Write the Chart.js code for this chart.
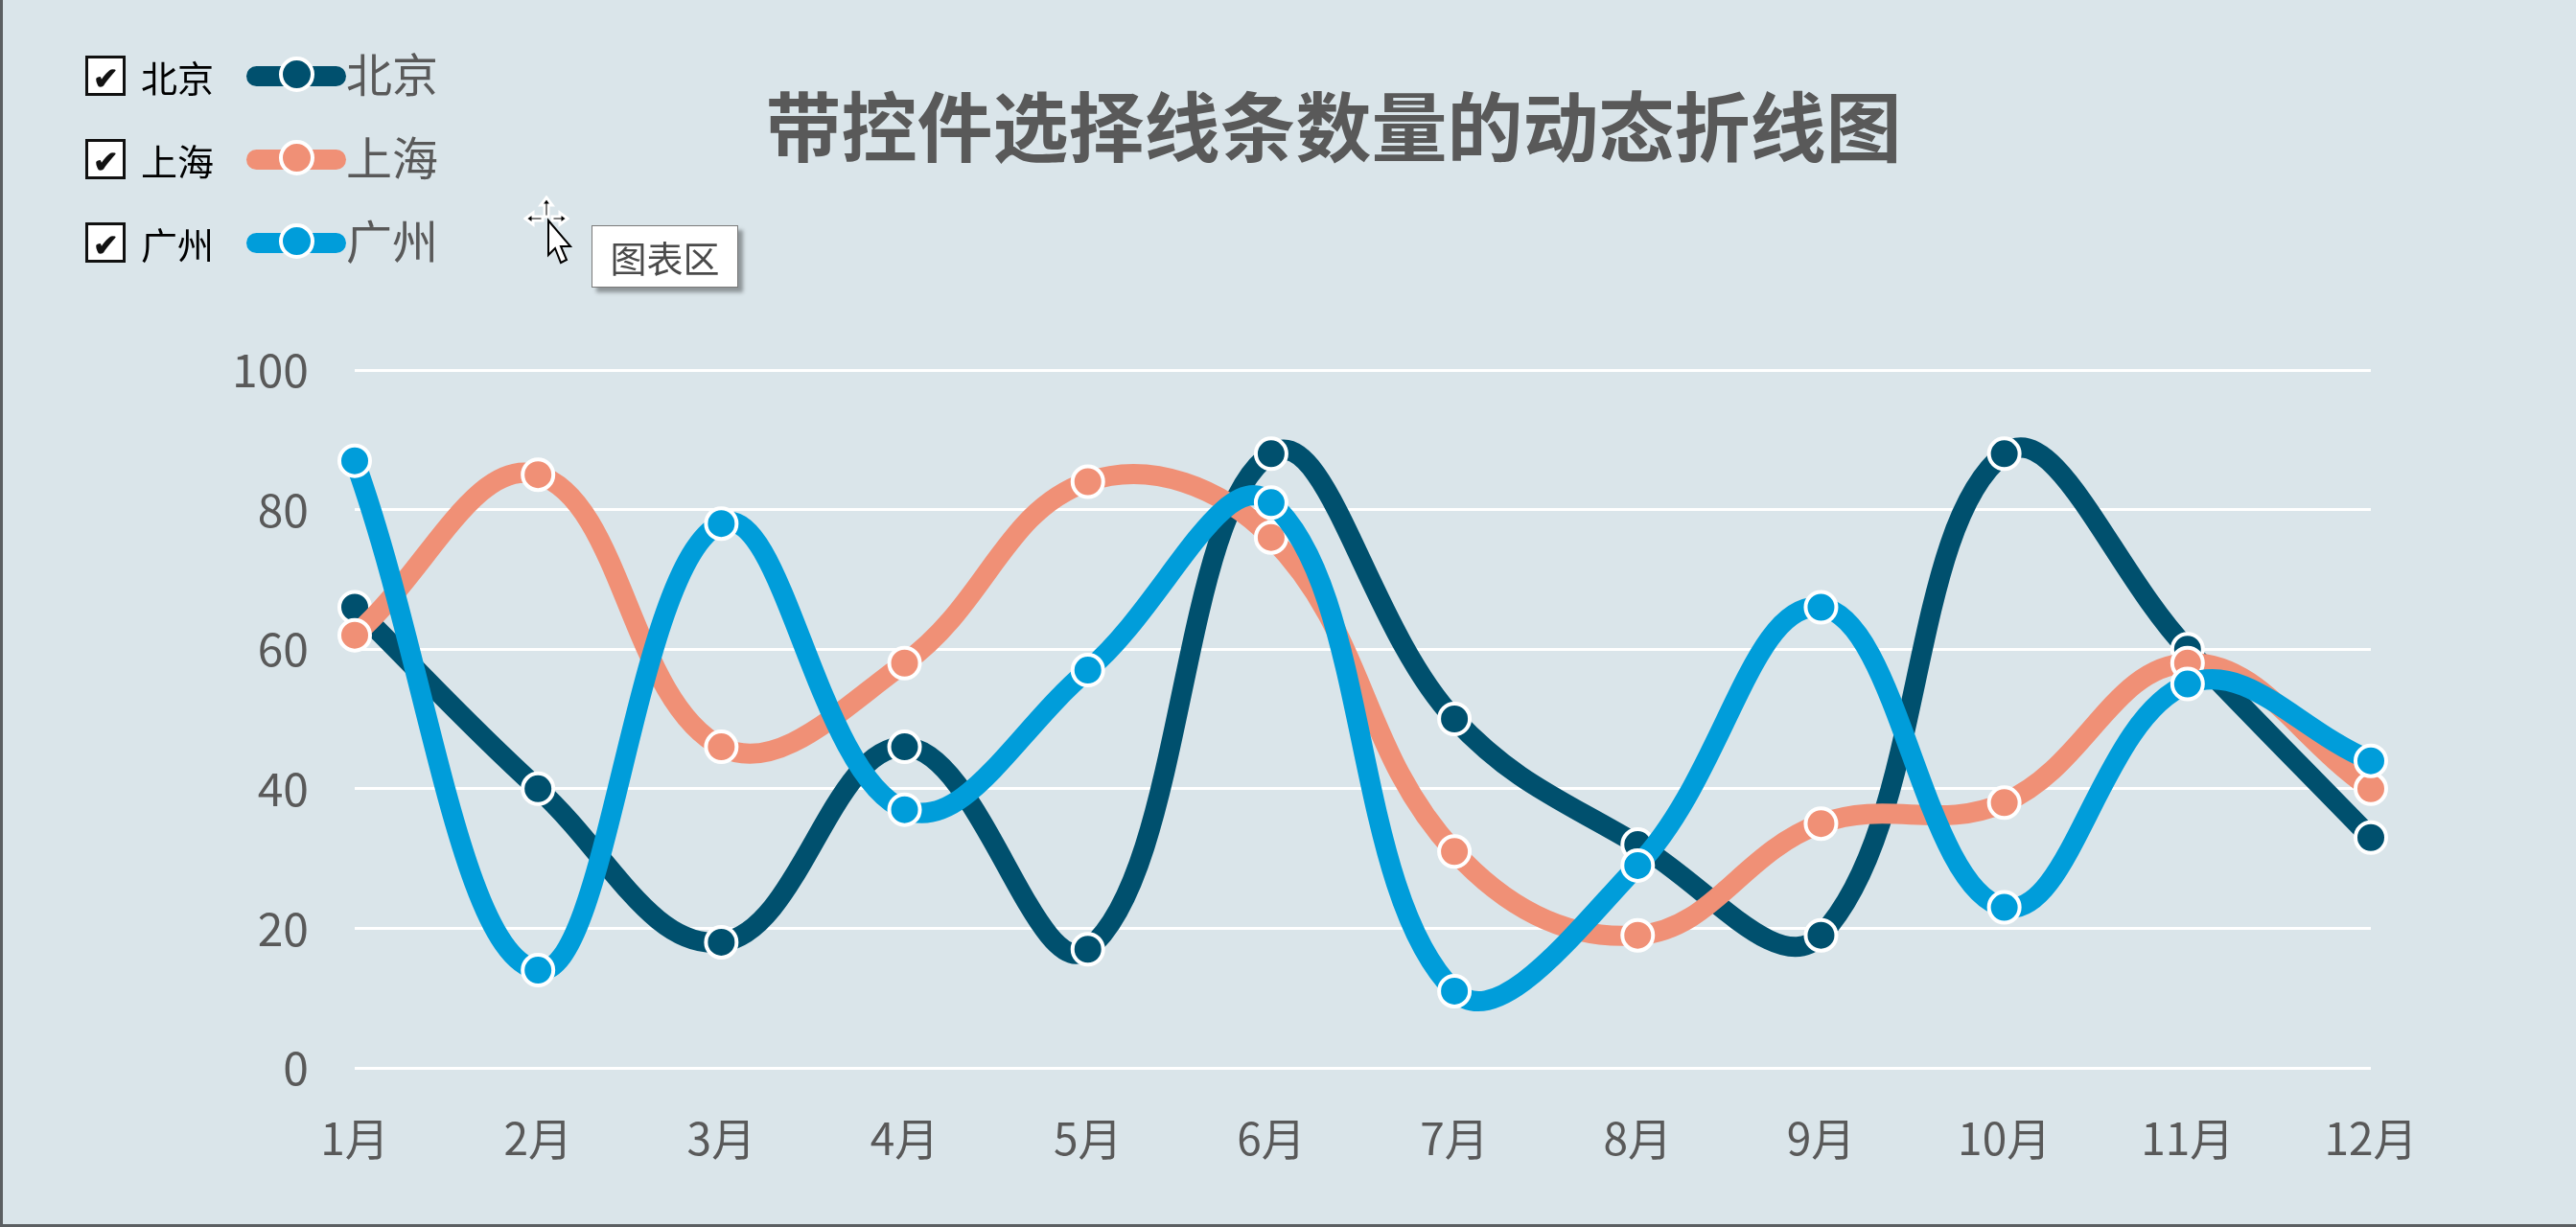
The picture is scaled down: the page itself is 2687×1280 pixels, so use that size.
<!DOCTYPE html>
<html>
<head>
<meta charset="utf-8">
<script src="https://cdn.jsdelivr.net/npm/chart.js@4.4.1/dist/chart.umd.min.js"></script>
<style>
  html, body { margin: 0; padding: 0; }
  body { width: 2687px; height: 1280px; overflow: hidden; background: #dae5ea; position: relative;
         font-family: "Noto Sans CJK SC", "Noto Sans", sans-serif; }
  #frame { position: absolute; left: 0; top: 0; width: 2684px; height: 1277px;
           border-left: 3px solid #5b5f62; border-bottom: 3px solid #5b5f62; pointer-events: none; }
  #c { position: absolute; left: 0; top: 0; }
  #title { position: absolute; left: 1391px; top: 128px; transform: translate(-50%, -50%);
           font-size: 79px; font-weight: 700; color: #595959; white-space: nowrap; }
  .row { position: absolute; left: 89px; height: 44px; display: flex; align-items: center; }
  .row input { display: none; }
  .box { width: 36px; height: 36px; border: 3px solid #111; background: #fff; display: flex;
         align-items: center; justify-content: center; font-size: 32px; font-weight: 700; line-height: 1; color: #111; cursor: pointer; }
  .row input:not(:checked) + .box { color: transparent; }
  .ctl { margin-left: 16px; width: 110px; font-size: 38px; color: #000; cursor: pointer; }
  .sw { position: relative; width: 104px; height: 21px; border-radius: 11px; }
  .sw i { position: absolute; left: 36px; top: -8px; width: 29px; height: 29px; border-radius: 50%;
          border: 4px solid #fff; margin-left: -2px; margin-top: -2px; }
  .lg { font-size: 48px; color: #595959; margin-top: -8px; }
  #tip { position: absolute; left: 617px; top: 235px; width: 151px; height: 63px; background: #fff;
         border: 1px solid #7a7a7a; box-shadow: 5px 5px 4px rgba(0,0,0,0.35); font-size: 38px; color: #4a4a4a;
         display: flex; align-items: center; justify-content: center; }
  #cur { position: absolute; left: 546px; top: 204px; }
</style>
</head>
<body>
<canvas id="c" width="2687" height="1280"></canvas>
<div id="title">带控件选择线条数量的动态折线图</div>
<div id="legend"></div>
<svg id="cur" width="56" height="78" viewBox="0 0 56 78">
  <g stroke="#fff" stroke-width="3" fill="#000">
    <path d="M24 2 L30 10 L26 10 L26 22 L22 22 L22 10 L18 10 Z"/>
    <path d="M2 24 L10 18 L10 22 L20 22 L20 26 L10 26 L10 30 Z"/>
    <path d="M46 24 L38 18 L38 22 L30 22 L30 26 L38 26 L38 30 Z"/>
    <path d="M26 26 L26 62 L33 55 L39 70 L45 67 L39 53 L49 53 Z" fill="#fff" stroke="#000" stroke-width="2"/>
  </g>
</svg>
<div id="tip">图表区</div>
<div id="frame"></div>
<script>
// 月份与三座城市的数据
const months = ["1月","2月","3月","4月","5月","6月","7月","8月","9月","10月","11月","12月"];
const beijing   = [66, 40, 18, 46, 17, 88, 50, 32, 19, 88, 60, 33];
const shanghai  = [62, 85, 46, 58, 84, 76, 31, 19, 35, 38, 58, 40];
const guangzhou = [87, 14, 78, 37, 57, 81, 11, 29, 66, 23, 55, 44];
const yTicks = [0, 20, 40, 60, 80, 100];

const cities = [
  {name: "北京", data: beijing,   color: "#00506e", order: 3},
  {name: "上海", data: shanghai,  color: "#f09076", order: 2},
  {name: "广州", data: guangzhou, color: "#009dda", order: 1},
];
const FONT = '"Noto Sans CJK SC", "Noto Sans", sans-serif';

const chart = new Chart(document.getElementById("c"), {
  type: "line",
  data: {
    labels: months,
    datasets: cities.map(c => ({
      label: c.name, data: c.data, order: c.order,
      borderColor: c.color, borderWidth: 21, borderCapStyle: "round", borderJoinStyle: "round",
      tension: 0.4, pointRadius: 16, pointBorderWidth: 4, pointBorderColor: "#fff",
      pointBackgroundColor: c.color, pointHoverRadius: 16, pointHoverBorderWidth: 4,
    }))
  },
  options: {
    responsive: false, animation: false, devicePixelRatio: 1,
    layout: {padding: {left: 0, right: 214, top: 386, bottom: 0}},
    plugins: {legend: {display: false}, title: {display: false}, tooltip: {enabled: false}},
    scales: {
      x: {
        grid: {display: false, drawTicks: false}, border: {display: false},
        ticks: {color: "#595959", font: {family: FONT, size: 46}, padding: 46, maxRotation: 0, autoSkip: false},
        afterFit: s => { s.height = 166; }
      },
      y: {
        min: 0, max: 100,
        afterBuildTicks: s => { s.ticks = yTicks.map(v => ({value: v})); },
        grid: {color: "#ffffff", lineWidth: 3, drawTicks: false}, border: {display: false},
        ticks: {color: "#595959", font: {family: FONT, size: 48}, padding: 48},
        afterFit: s => { s.width = 370; }
      }
    }
  }
});

// 复选框控件 + 图例
const rowY = [57, 144, 231];
const lg = document.getElementById("legend");
cities.forEach((c, i) => {
  const row = document.createElement("label");
  row.className = "row"; row.style.top = rowY[i] + "px";
  row.innerHTML = `<input type="checkbox" checked><span class="box">✔</span><span class="ctl">${c.name}</span>
    <span class="sw" style="background:${c.color}"><i style="background:${c.color}"></i></span><span class="lg">${c.name}</span>`;
  row.querySelector("input").addEventListener("change", e => {
    chart.setDatasetVisibility(i, e.target.checked); chart.update();
  });
  lg.appendChild(row);
});
</script>
</body>
</html>
